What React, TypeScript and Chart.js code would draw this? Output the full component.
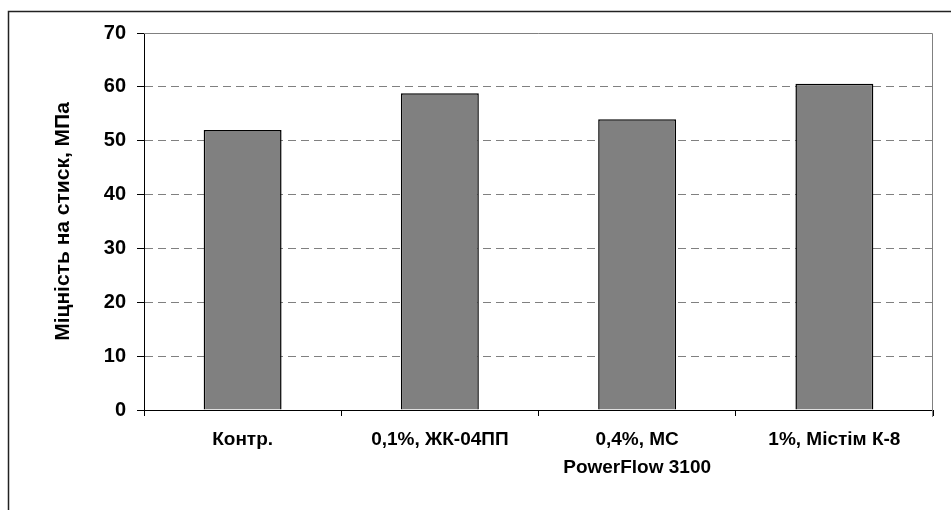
import React, { useEffect, useRef } from "react";
import { Chart, registerables } from "chart.js";

Chart.register(...registerables);

const categories: (string | string[])[] = [
  "Контр.",
  "0,1%, ЖК-04ПП",
  ["0,4%, МС", "PowerFlow 3100"],
  "1%, Містім К-8",
];
const strengthValues: number[] = [52.0, 58.8, 54.0, 60.6];
const yTitle = "Міцність на стиск, МПа";
const yMin = 0;
const yMax = 70;
const yStep = 10;

const FONT = "'Liberation Sans', Arial, sans-serif";

const framePlugin = {
  id: "frame",
  beforeDraw(chart: any) {
    const ctx = chart.ctx;
    ctx.save();
    ctx.fillStyle = "#ffffff";
    ctx.fillRect(0, 0, chart.width, chart.height);
    ctx.strokeStyle = "#222222";
    ctx.lineWidth = 1.5;
    ctx.strokeRect(8.5, 11.5, chart.width + 50, chart.height + 50);
    ctx.restore();
  },
  afterDraw(chart: any) {
    const { left, right, top, bottom } = chart.chartArea;
    const ctx = chart.ctx;
    ctx.save();
    ctx.strokeStyle = "#808080";
    ctx.lineWidth = 1;
    ctx.beginPath();
    ctx.moveTo(left, top + 0.5);
    ctx.lineTo(right - 0.5, top + 0.5);
    ctx.lineTo(right - 0.5, bottom + 7);
    ctx.stroke();
    ctx.restore();
  },
};

export default function App() {
  const ref = useRef<HTMLCanvasElement | null>(null);
  useEffect(() => {
    document.body.style.margin = "0";
    const canvas = ref.current;
    if (!canvas) return;
    const chart = new Chart(canvas, {
      type: "bar",
      data: {
        labels: categories,
        datasets: [
          {
            data: strengthValues,
            backgroundColor: "#808080",
            borderColor: "#000000",
            borderWidth: 1.5,
            categoryPercentage: 1,
            barPercentage: 0.395,
          },
        ],
      },
      options: {
        animation: false,
        responsive: false,
        devicePixelRatio: 1,
        layout: { padding: { top: 33, right: 18, left: 0, bottom: 0 } },
        plugins: {
          legend: { display: false },
          tooltip: { enabled: false },
        },
        scales: {
          x: {
            grid: {
              offset: true,
              drawOnChartArea: false,
              color: "#000000",
              tickColor: "#000000",
              tickLength: 6,
            },
            border: { color: "#000000", width: 1 },
            ticks: {
              color: "#000000",
              padding: 10,
              maxRotation: 0,
              autoSkip: false,
              font: { family: FONT, size: 19, weight: "bold", lineHeight: 1.45 },
            },
            afterFit: (scale: any) => {
              scale.height = 100;
            },
          },
          y: {
            min: yMin,
            max: yMax,
            ticks: {
              stepSize: yStep,
              color: "#000000",
              padding: 11,
              font: { family: FONT, size: 20, weight: "bold" },
            },
            grid: {
              color: (c: any) =>
                c.tick && (c.tick.value === yMax || c.tick.value === yMin)
                  ? "rgba(0,0,0,0)"
                  : "#808080",
              tickColor: "#000000",
              tickLength: 7,
              tickBorderDash: [],
            },
            border: { color: "#000000", width: 1, dash: [8, 5] },
            title: {
              display: true,
              text: yTitle,
              color: "#000000",
              padding: { top: 51, bottom: 0 },
              font: { family: FONT, size: 21, weight: "bold" },
            },
            afterFit: (scale: any) => {
              scale.width = 144;
            },
          },
        },
      },
      plugins: [framePlugin],
    });
    return () => chart.destroy();
  }, []);
  return (
    <div style={{ width: 951, height: 510 }}>
      <canvas ref={ref} width={951} height={510} style={{ width: 951, height: 510, display: "block" }} />
    </div>
  );
}
